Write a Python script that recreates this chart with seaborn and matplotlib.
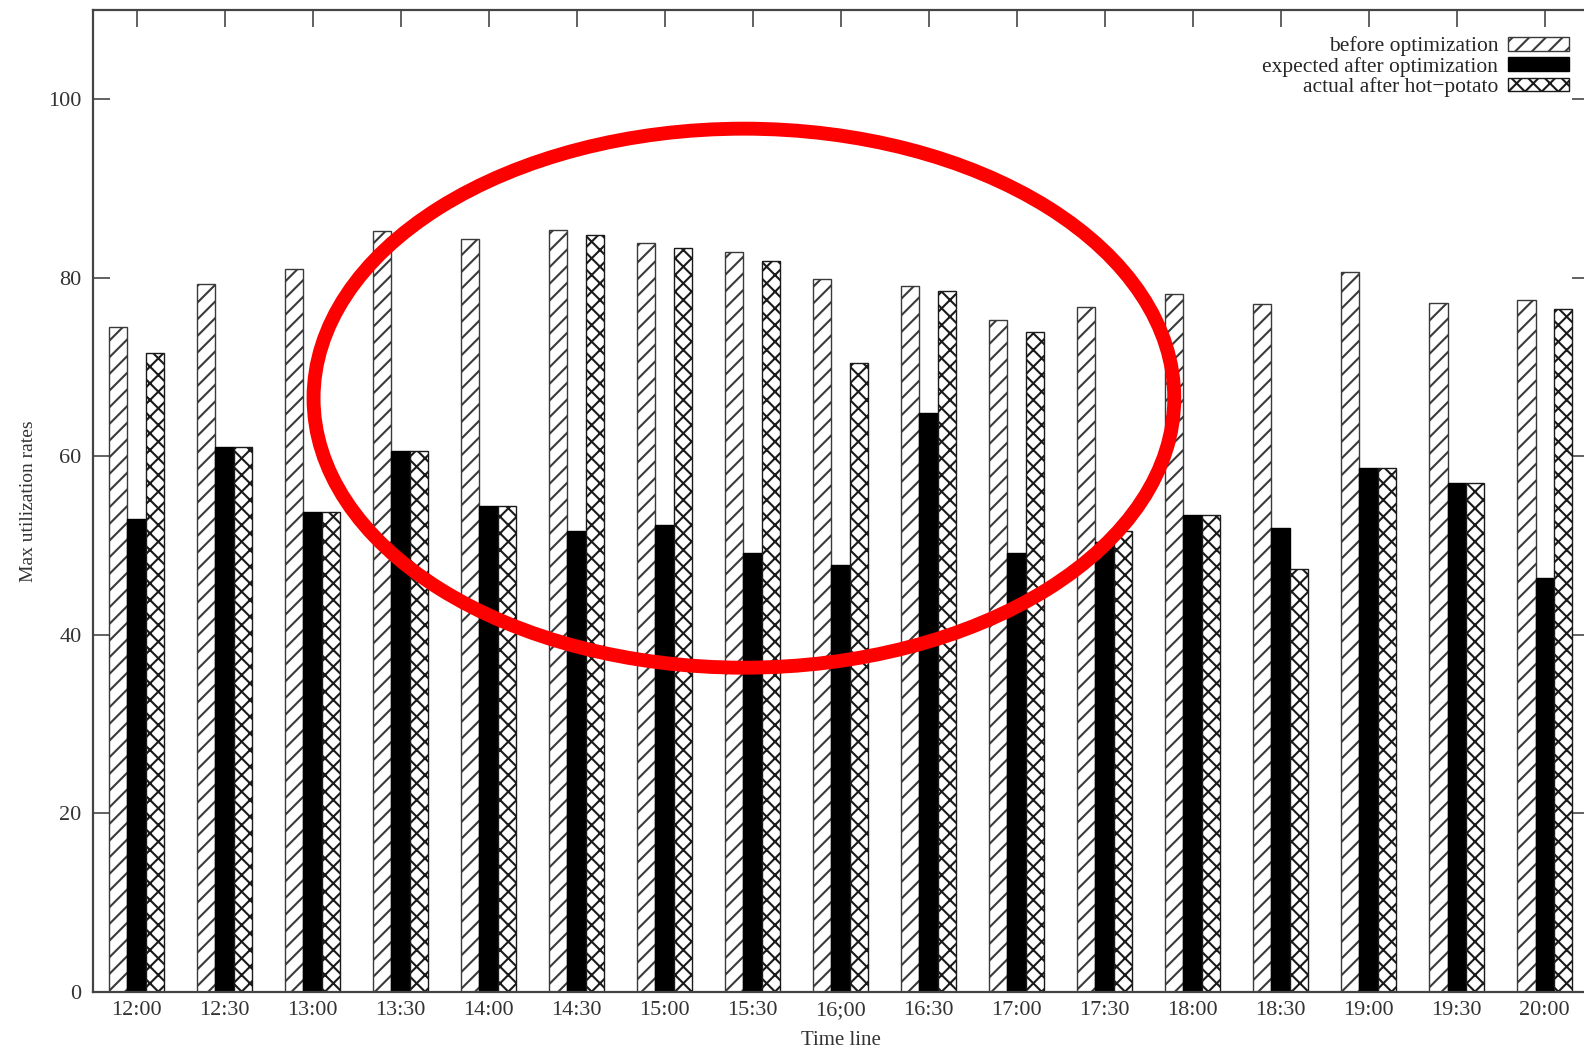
import numpy as np
import pandas as pd
import matplotlib
matplotlib.use('Agg')
import matplotlib.pyplot as plt
from matplotlib.patches import Ellipse, Patch
import seaborn as sns

times = ['12:00', '12:30', '13:00', '13:30', '14:00', '14:30', '15:00', '15:30', '16;00',
         '16:30', '17:00', '17:30', '18:00', '18:30', '19:00', '19:30', '20:00']
before = [74.5, 79.3, 81.0, 85.2, 84.3, 85.4, 83.9, 82.9, 79.9, 79.1, 75.3, 76.7, 78.2, 77.0, 80.6, 77.2, 77.5]
expected = [53.0, 61.0, 53.7, 60.6, 54.4, 51.6, 52.3, 49.1, 47.8, 64.8, 49.1, 50.4, 53.4, 51.9, 58.7, 57.0, 46.4]
actual = [71.6, 61.0, 53.7, 60.6, 54.4, 84.8, 83.3, 81.9, 70.4, 78.5, 73.9, 51.6, 53.4, 47.4, 58.7, 57.0, 76.5]
labels = ['before optimization', 'expected after optimization', 'actual after hot\u2212potato']

df = pd.DataFrame({'time': times * 3,
                   'value': before + expected + actual,
                   'series': [labels[0]] * 17 + [labels[1]] * 17 + [labels[2]] * 17})

sns.set_style('ticks')
plt.rcParams['font.family'] = ['Liberation Serif', 'DejaVu Serif']
plt.rcParams['hatch.linewidth'] = 1.5

fig, ax = plt.subplots(figsize=(15.84, 10.51), dpi=100)
fig.subplots_adjust(left=0.0585, right=1.003, top=0.9905, bottom=0.0565)

sns.barplot(data=df, x='time', y='value', hue='series', order=times, hue_order=labels,
            palette=['white', 'black', 'white'], width=0.63, dodge=True, ax=ax,
            saturation=1, legend=False)

# gnuplot-like fills: hatched / solid / crosshatched
hatches = ['//', '', 'xx']
edges = ['#3a3a3a', 'black', '#1a1a1a']
for cont, h, ec in zip(ax.containers, hatches, edges):
    for bar in cont:
        bar.set_hatch(h)
        bar.set_edgecolor(ec)
        bar.set_linewidth(1.0)

ax.set_xlim(-0.5, 16.5)
ax.set_ylim(0, 110)
ax.set_yticks([0, 20, 40, 60, 80, 100])
ax.set_xlabel('Time line', fontsize=15, color='#333333', labelpad=8)
ax.set_ylabel('Max utilization rates', fontsize=14, color='#333333', labelpad=8)
ax.tick_params(axis='both', labelsize=16, colors='#555555', labelcolor='#333333',
               direction='in', length=12, width=1.3, top=True, right=True)
ax.tick_params(axis='x', pad=7)
ax.tick_params(axis='y', pad=8)
for s in ax.spines.values():
    s.set_visible(True)
    s.set_color('#444444')
    s.set_linewidth(1.6)

handles = [Patch(facecolor='white', edgecolor='#3a3a3a', hatch='//'),
           Patch(facecolor='black', edgecolor='black'),
           Patch(facecolor='white', edgecolor='#1a1a1a', hatch='xx')]
ax.legend(handles, labels, loc='upper right', bbox_to_anchor=(0.987, 0.973), frameon=False,
          markerfirst=False, fontsize=15.5, handlelength=2.85, handleheight=0.6,
          labelspacing=0.02, handletextpad=0.45, borderaxespad=0, borderpad=0)

ell = Ellipse((6.9, 66.5), width=9.78, height=60.4, fill=False, edgecolor='#ff0000',
              linewidth=10, clip_on=False, zorder=10)
ax.add_patch(ell)

fig.savefig('out.png', dpi=100)
